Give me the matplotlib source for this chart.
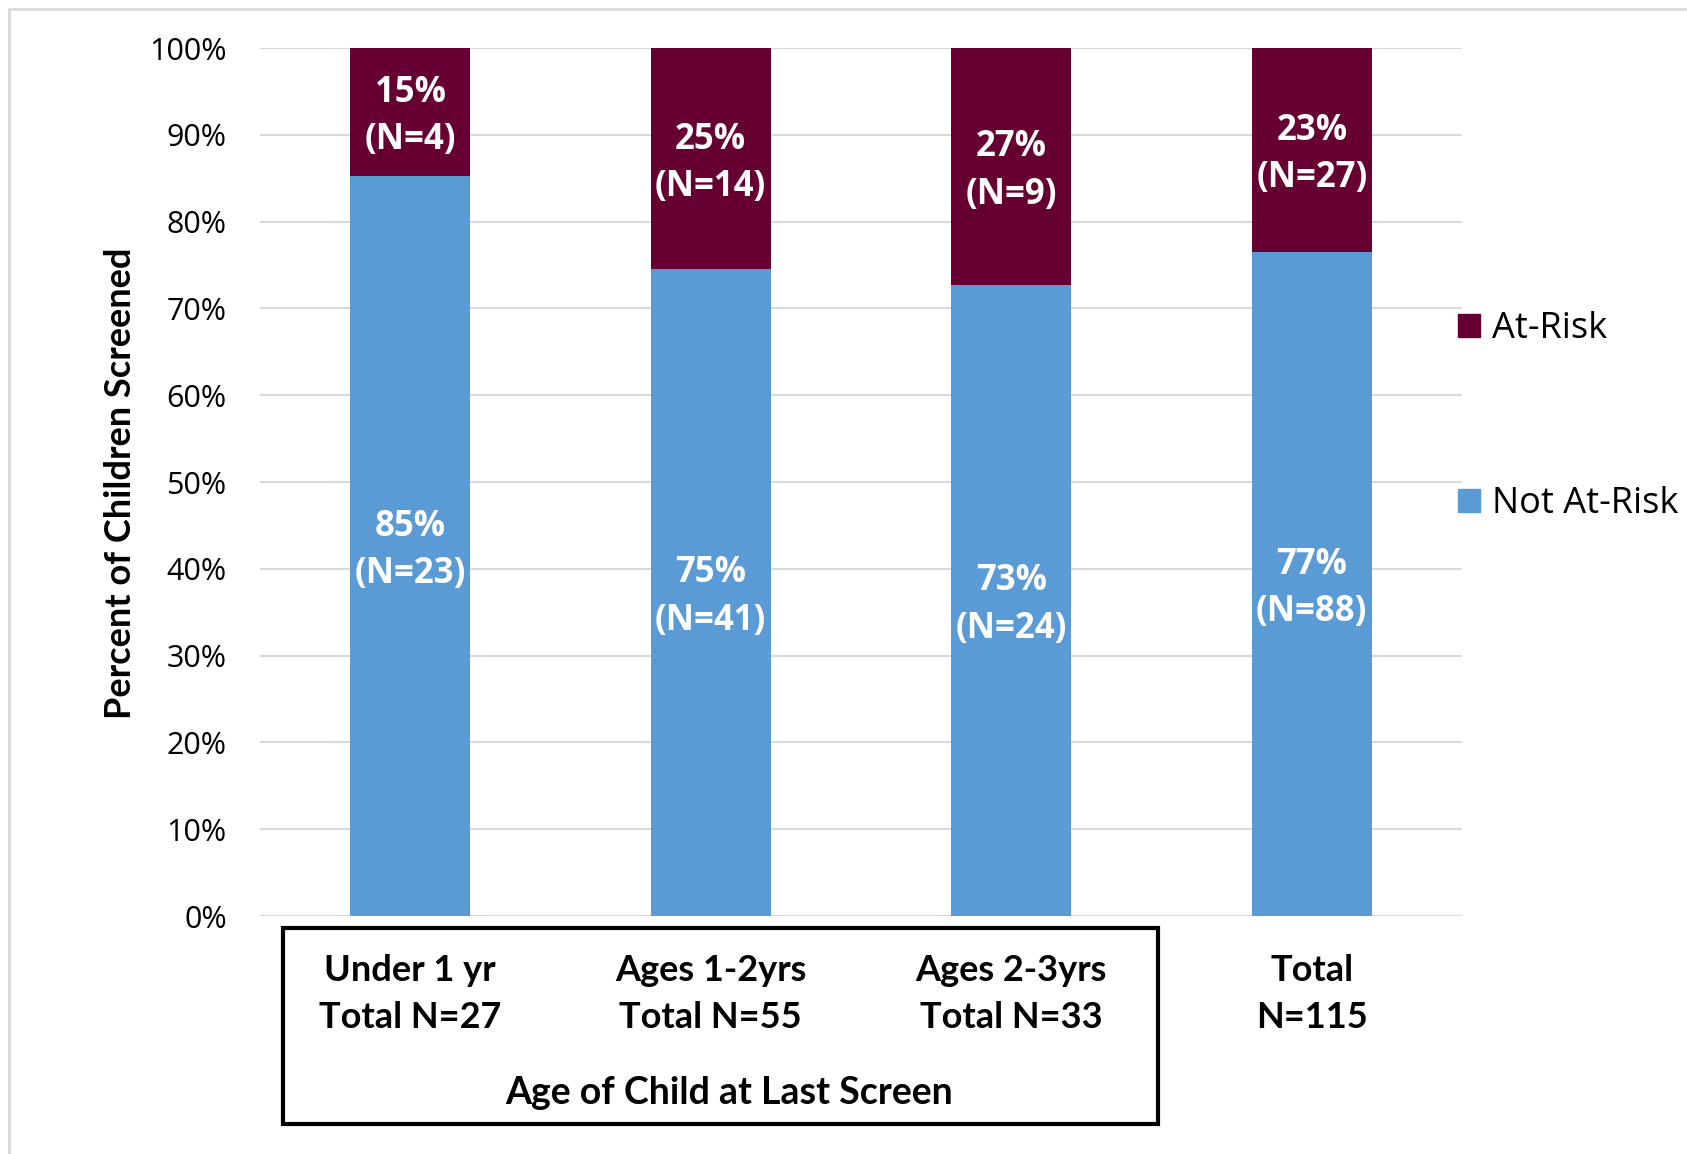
import matplotlib
matplotlib.use("Agg")
import matplotlib.pyplot as plt
from matplotlib.patches import Rectangle, Patch
from matplotlib.transforms import blended_transform_factory, ScaledTranslation

# ---- data ----
categories = ["Under 1 yr\nTotal N=27", "Ages 1-2yrs\nTotal N=55", "Ages 2-3yrs\nTotal N=33", "Total\nN=115"]
not_at_risk_pct = [85.2, 74.5, 72.7, 76.5]
at_risk_pct = [14.8, 25.5, 27.3, 23.5]
not_at_risk_n = [23, 41, 24, 88]
at_risk_n = [4, 14, 9, 27]
not_at_risk_lbl = ["85%", "75%", "73%", "77%"]
at_risk_lbl = ["15%", "25%", "27%", "23%"]
yticks = [0, 10, 20, 30, 40, 50, 60, 70, 80, 90, 100]

BLUE = "#5B9BD5"
MAROON = "#660033"
FONT = "Open Sans"
CAT_FONT = "Lato"

W, H = 1687, 1154
fig = plt.figure(figsize=(W / 100, H / 100), dpi=100)
ax = fig.add_axes([260 / W, 1 - 916 / H, (1462 - 260) / W, (916 - 48) / H])

x = list(range(len(categories)))
ax.bar(x, not_at_risk_pct, width=0.4, color=BLUE, zorder=3, label="Not At-Risk")
ax.bar(x, at_risk_pct, width=0.4, bottom=not_at_risk_pct, color=MAROON, zorder=3, label="At-Risk")

lbl_trans = ax.transData + ScaledTranslation(0, -4.5 / 100, fig.dpi_scale_trans)
for i in x:
    ax.text(i, not_at_risk_pct[i] / 2, f"{not_at_risk_lbl[i]}\n(N={not_at_risk_n[i]})",
            ha="center", va="center", color="white", fontsize=25, fontweight="bold",
            family=FONT, linespacing=1.42, zorder=4, transform=lbl_trans)
    ax.text(i, not_at_risk_pct[i] + at_risk_pct[i] / 2, f"{at_risk_lbl[i]}\n(N={at_risk_n[i]})",
            ha="center", va="center", color="white", fontsize=25, fontweight="bold",
            family=FONT, linespacing=1.42, zorder=4, transform=lbl_trans)

ax.set_xlim(-0.5, 3.5)
ax.set_ylim(0, 100)
ax.set_yticks(yticks)
ax.set_yticklabels([f"{t}%" for t in yticks], fontsize=22, family=FONT)
ax.tick_params(axis="y", length=0, pad=24)
ax.set_xticks([])
ax.grid(axis="y", color="#d9d9d9", linewidth=1.5, zorder=0)
for s in ax.spines.values():
    s.set_visible(False)

# category labels below axis
trans = blended_transform_factory(ax.transData, fig.transFigure)
for i, c in enumerate(categories):
    ax.text(i, 1 - 994 / H, c, transform=trans, ha="center", va="center",
            fontsize=26, fontweight="bold", family=CAT_FONT, linespacing=1.5)

fig.text(729 / W, 1 - 1093 / H, "Age of Child at Last Screen", ha="center", va="center",
         fontsize=27, fontweight="bold", family=CAT_FONT)
fig.text(121 / W, 1 - 483 / H, "Percent of Children Screened", ha="center", va="center",
         rotation=90, fontsize=26, fontweight="bold", family=CAT_FONT)

# box around category labels
fig.patches.append(Rectangle((283 / W, 1 - 1124 / H), (1158 - 283) / W, (1124 - 928) / H,
                             transform=fig.transFigure, fill=False, edgecolor="black",
                             linewidth=3))
# outer chart border
fig.patches.append(Rectangle((9 / W, -0.05), 1.2, 1 - 9 / H + 0.05,
                             transform=fig.transFigure, fill=False, edgecolor="#d9d9d9",
                             linewidth=2))

handles = [Patch(color=MAROON, label="At-Risk"), Patch(color=BLUE, label="Not At-Risk")]
fig.legend(handles=handles, loc="upper left", bbox_to_anchor=(1458 / W, 1 - 311 / H),
           frameon=False, prop={"family": FONT, "size": 26}, handlelength=0.6,
           handleheight=0.6, handletextpad=0.35, labelspacing=3.85, borderpad=0,
           borderaxespad=0)

fig.savefig("out.png", dpi=100)
